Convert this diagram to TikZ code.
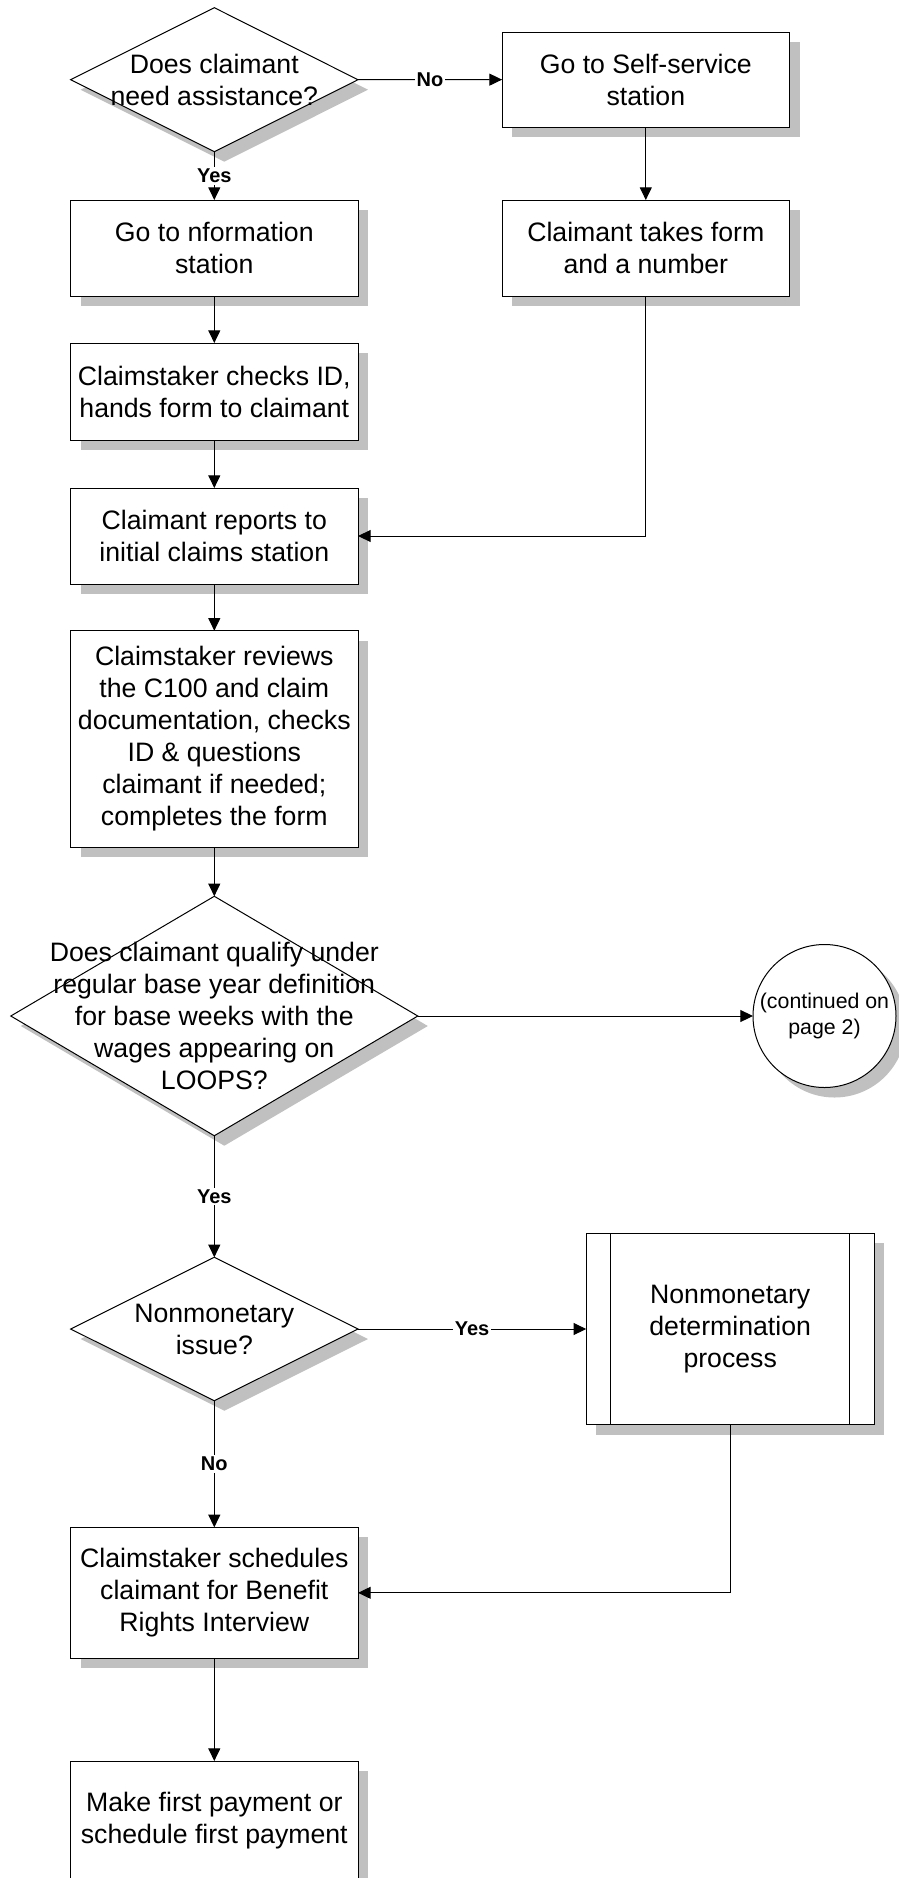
\documentclass[tikz,border=0pt]{standalone}
\usepackage{fontspec}
\setmainfont{Liberation Sans}
\usepackage{xcolor}
\definecolor{shadowgray}{RGB}{192, 192, 192}
\usetikzlibrary{arrows.meta, shapes.geometric, shadows, calc}

\tikzset{
  base/.style={draw=black, line width=0.75pt, fill=white, outer sep=0pt, inner sep=0pt,
    drop shadow={shadow xshift=7.5pt, shadow yshift=-7.5pt, fill=shadowgray, opacity=1}},
  stepbox/.style={base, rectangle, minimum width=215.6pt, minimum height=72pt,
    align=center, font=\fontsize{20}{24}\selectfont},
  choice/.style={base, diamond},
  choicetext/.style={align=center, font=\fontsize{20}{24}\selectfont},
  flow/.style={->, line width=0.75pt},
  yn/.style={font=\fontsize{15}{18}\selectfont\bfseries, fill=white, inner sep=1.5pt},
}

\begin{document}
\begin{tikzpicture}[x=0.75pt, y=-0.75pt, >={Triangle[length=9.5pt, width=9pt]}]
  \useasboundingbox (0,0) rectangle (899,1878);
  % First question
  \node[choice, minimum width=215.5pt, minimum height=108pt,
    label={[choicetext]center:{Does claimant\\need assistance?}}] (assist) at (214.3,79.7) {};
  % Self-service branch
  \node[stepbox, minimum height=71.25pt] (self) at (645.8,79.6) {Go to Self-service\\station};
  \node[stepbox] (takes) at (645.8,248) {Claimant takes form\\and a number};
  % Assisted branch
  \node[stepbox] (info) at (214.3,248) {Go to nformation\\station};
  \node[stepbox, minimum height=72.75pt] (checks) at (214.3,391.5) {Claimstaker checks ID,\\hands form to claimant};
  \node[stepbox] (reports) at (214.3,536) {Claimant reports to\\initial claims station};
  \node[stepbox, minimum height=162.4pt] (reviews) at (214.3,739)
    {Claimstaker reviews\\the C100 and claim\\documentation, checks\\ID \& questions\\claimant if needed;\\completes the form};
  % Base year question
  \node[choice, minimum width=305.25pt, minimum height=179.6pt,
    label={[choicetext]center:{Does claimant qualify under\\regular base year definition\\for base weeks with the\\wages appearing on\\LOOPS?}}] (qualify) at (214.3,1016) {};
  % Off-page connector
  \node[base, circle, minimum size=107.25pt, align=center,
    font=\fontsize{16}{20}\selectfont] (cont) at (824.5,1016) {(continued on\\page 2)};
  % Nonmonetary question
  \node[choice, minimum width=215.5pt, minimum height=107.6pt,
    label={[choicetext]center:{Nonmonetary\\issue?}}] (issue) at (214.3,1329) {};
  % Predefined process
  \node[stepbox, minimum width=216pt, minimum height=143.8pt] (proc) at (730.2,1329)
    {Nonmonetary\\determination\\process};
  \draw[line width=0.75pt] ([xshift=18.4pt]proc.north west) -- ([xshift=18.4pt]proc.south west);
  \draw[line width=0.75pt] ([xshift=-18.4pt]proc.north east) -- ([xshift=-18.4pt]proc.south east);
  % Closing steps
  \node[stepbox, minimum height=98.25pt] (sched) at (214.3,1592.8)
    {Claimstaker schedules\\claimant for Benefit\\Rights Interview};
  \node[stepbox, minimum height=90pt] (pay) at (214.3,1821)
    {Make first payment or\\schedule first payment};
  % Connectors
  \draw[flow] (assist) -- node[yn] {No} (self);
  \draw[flow] (assist) -- node[yn] {Yes} (info);
  \draw[flow] (self) -- (takes);
  \draw[flow] (info) -- (checks);
  \draw[flow] (checks) -- (reports);
  \draw[flow] (takes.south) |- (reports.east);
  \draw[flow] (reports) -- (reviews);
  \draw[flow] (reviews) -- (qualify);
  \draw[flow] (qualify) -- (cont);
  \draw[flow] (qualify) -- node[yn] {Yes} (issue);
  \draw[flow] (issue) -- node[yn] {Yes} (proc);
  \draw[flow] (issue) -- node[yn] {No} (sched);
  \draw[flow] (proc.south) |- (sched.east);
  \draw[flow] (sched) -- (pay);
\end{tikzpicture}
\end{document}
